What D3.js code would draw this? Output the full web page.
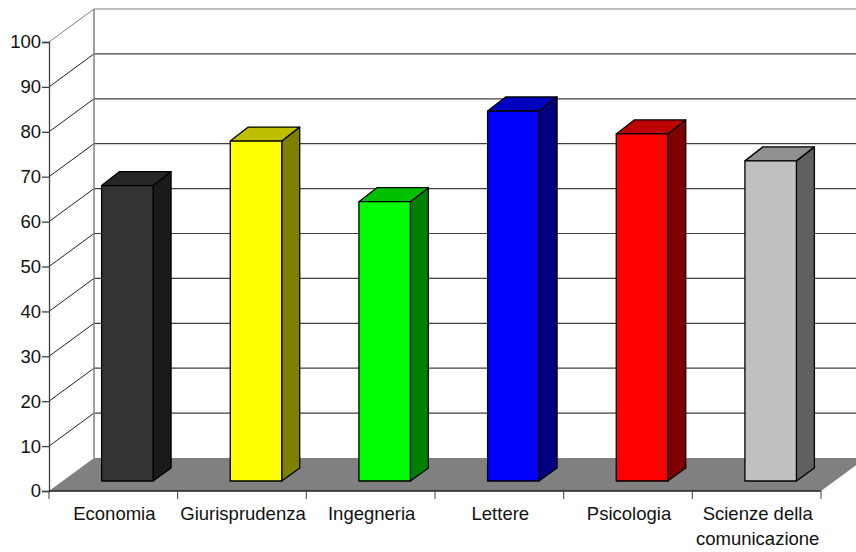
<!DOCTYPE html>
<html>
<head>
<meta charset="utf-8">
<script src="https://cdn.jsdelivr.net/npm/d3@7"></script>
<style>
    body { margin: 0; background: #fff; }
    text { font-family: "Liberation Sans", Arial, sans-serif; font-size: 18.5px; fill: #111; }
</style>
</head>
<body>
<div class="chart"></div>
<script>
const categories = ['Economia', 'Giurisprudenza', 'Ingegneria', 'Lettere', 'Psicologia', 'Scienze della|comunicazione'];
const values = [65.8, 75.7, 62.2, 82.4, 77.3, 71.3];
const frontColors = ['#333333', '#ffff00', '#00ff00', '#0000ff', '#ff0000', '#c0c0c0'];
const topColors = ['#262626', '#bfbf00', '#00bf00', '#0000bf', '#bf0000', '#909090'];
const sideColors = ['#1a1a1a', '#808000', '#008000', '#000080', '#800000', '#606060'];
const yTicks = [0, 10, 20, 30, 40, 50, 60, 70, 80, 90, 100];

const width = 856, height = 552;
// depth of the floor and of one bar, in screen px
const depthX = 45, depthY = 33;
const barDepthX = 18, barDepthY = 14;
const offX = 14, offY = 10;

let svg = d3.select('.chart')
    .append('svg')
    .attr('width', width)
    .attr('height', height)
    .style('display', 'block');

let x_scale = d3.scaleBand()
    .domain(categories)
    .range([49, 821])
    .paddingInner(0.6)
    .paddingOuter(0.3);
let x_ticks = d3.scaleBand()
    .domain(categories)
    .range([49, 821]);
let y_scale = d3.scaleLinear()
    .domain([0, 100])
    .range([491, 42]);

const x0 = x_ticks.range()[0], x1 = x_ticks.range()[1];
const poly = pts => pts.map(p => p.join(',')).join(' ');

// back wall lines
svg.append('g')
    .selectAll('line')
    .data(yTicks.slice(1))
    .join('line')
    .attr('x1', x0 + depthX)
    .attr('x2', x1 + depthX)
    .attr('y1', d => y_scale(d) - depthY)
    .attr('y2', d => y_scale(d) - depthY)
    .attr('stroke', d => d === 100 ? '#808080' : '#404040')
    .attr('stroke-width', 1.2);

// side wall lines
svg.append('g')
    .selectAll('line')
    .data(yTicks.slice(1))
    .join('line')
    .attr('x1', x0)
    .attr('x2', x0 + depthX)
    .attr('y1', d => y_scale(d))
    .attr('y2', d => y_scale(d) - depthY)
    .attr('stroke', d => d === 100 ? '#808080' : '#222')
    .attr('stroke-width', 1);

svg.append('line')
    .attr('x1', x0 + depthX)
    .attr('x2', x0 + depthX)
    .attr('y1', y_scale(100) - depthY)
    .attr('y2', y_scale(0) - depthY)
    .attr('stroke', '#808080')
    .attr('stroke-width', 1.5);

// floor
svg.append('polygon')
    .attr('points', poly([
        [x0, y_scale(0)], [x1, y_scale(0)],
        [x1 + depthX, y_scale(0) - depthY], [x0 + depthX, y_scale(0) - depthY]
    ]))
    .attr('fill', '#808080');

// bars
let bars = svg.append('g')
    .selectAll('g')
    .data(categories)
    .join('g');
const fx = d => x_scale(d) + offX;
const base = y_scale(0) - offY;
const topOf = (d, i) => base - (y_scale(0) - y_scale(values[i]));
const bw = x_scale.bandwidth();

bars.append('polygon')
    .attr('points', (d, i) => poly([
        [fx(d) + bw, topOf(d, i)], [fx(d) + bw + barDepthX, topOf(d, i) - barDepthY],
        [fx(d) + bw + barDepthX, base - barDepthY + 1], [fx(d) + bw, base]
    ]))
    .attr('fill', (d, i) => sideColors[i]);
bars.append('polygon')
    .attr('points', (d, i) => poly([
        [fx(d), topOf(d, i)], [fx(d) + barDepthX, topOf(d, i) - barDepthY],
        [fx(d) + bw + barDepthX, topOf(d, i) - barDepthY], [fx(d) + bw, topOf(d, i)]
    ]))
    .attr('fill', (d, i) => topColors[i]);
bars.append('rect')
    .attr('x', d => fx(d))
    .attr('y', topOf)
    .attr('width', bw)
    .attr('height', (d, i) => base - topOf(d, i))
    .attr('fill', (d, i) => frontColors[i]);
bars.selectAll('polygon, rect')
    .attr('stroke', '#000')
    .attr('stroke-width', 1.3)
    .attr('stroke-linejoin', 'round');

// axes
let y_Axis = d3.axisLeft()
    .scale(y_scale)
    .tickValues(yTicks)
    .tickSize(7)
    .tickPadding(1);
let yG = svg.append('g')
    .attr('transform', `translate(${x0}, 0)`)
    .call(y_Axis);
yG.selectAll('path, line').attr('stroke', '#404040').attr('stroke-width', 1.3);

let xG = svg.append('g')
    .attr('transform', `translate(0, ${y_scale(0)})`);
xG.append('line')
    .attr('x1', x0)
    .attr('x2', x1)
    .attr('stroke', '#222')
    .attr('stroke-width', 1.3);
xG.selectAll('.tick')
    .data(categories.concat(['end']))
    .join('line')
    .attr('class', 'tick')
    .attr('x1', (d, i) => i < categories.length ? x_ticks(d) : x1)
    .attr('x2', (d, i) => i < categories.length ? x_ticks(d) : x1)
    .attr('y1', 0)
    .attr('y2', 8)
    .attr('stroke', '#404040');

xG.selectAll('text')
    .data(categories)
    .join('text')
    .attr('text-anchor', 'middle')
    .attr('transform', d => `translate(${x_ticks(d) + x_ticks.bandwidth() / 2 + 1}, 29)`)
    .selectAll('tspan')
    .data(d => d.split('|'))
    .join('tspan')
    .attr('x', 0)
    .attr('y', (d, i) => i * 25)
    .text(d => d);
</script>
</body>
</html>
